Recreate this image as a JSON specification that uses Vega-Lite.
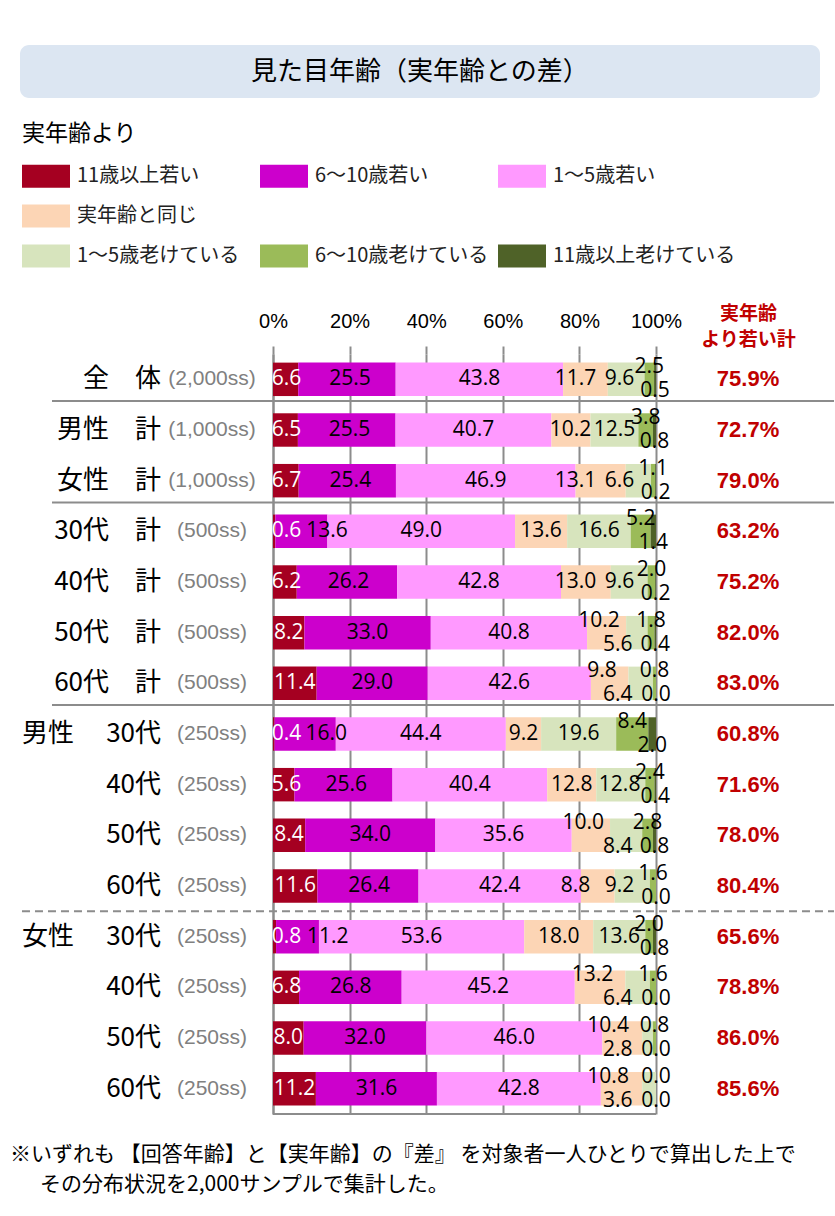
{
"$schema":"https://vega.github.io/schema/vega-lite/v6.json",
"padding":{"left":10,"top":45,"right":0,"bottom":5},
"background":"white",
"bounds":"flush",
"spacing":256,
"config":{"view":{"stroke":null}},
"datasets":{
"bars":[
{"row":"全体","cat":"11歳以上若い","v":6.6},{"row":"全体","cat":"6〜10歳若い","v":25.5},{"row":"全体","cat":"1〜5歳若い","v":43.8},{"row":"全体","cat":"実年齢と同じ","v":11.7},{"row":"全体","cat":"1〜5歳老けている","v":9.6},{"row":"全体","cat":"6〜10歳老けている","v":2.5},{"row":"全体","cat":"11歳以上老けている","v":0.5},
{"row":"男性計","cat":"11歳以上若い","v":6.5},{"row":"男性計","cat":"6〜10歳若い","v":25.5},{"row":"男性計","cat":"1〜5歳若い","v":40.7},{"row":"男性計","cat":"実年齢と同じ","v":10.2},{"row":"男性計","cat":"1〜5歳老けている","v":12.5},{"row":"男性計","cat":"6〜10歳老けている","v":3.8},{"row":"男性計","cat":"11歳以上老けている","v":0.8},
{"row":"女性計","cat":"11歳以上若い","v":6.7},{"row":"女性計","cat":"6〜10歳若い","v":25.4},{"row":"女性計","cat":"1〜5歳若い","v":46.9},{"row":"女性計","cat":"実年齢と同じ","v":13.1},{"row":"女性計","cat":"1〜5歳老けている","v":6.6},{"row":"女性計","cat":"6〜10歳老けている","v":1.1},{"row":"女性計","cat":"11歳以上老けている","v":0.2},
{"row":"30代計","cat":"11歳以上若い","v":0.6},{"row":"30代計","cat":"6〜10歳若い","v":13.6},{"row":"30代計","cat":"1〜5歳若い","v":49.0},{"row":"30代計","cat":"実年齢と同じ","v":13.6},{"row":"30代計","cat":"1〜5歳老けている","v":16.6},{"row":"30代計","cat":"6〜10歳老けている","v":5.2},{"row":"30代計","cat":"11歳以上老けている","v":1.4},
{"row":"40代計","cat":"11歳以上若い","v":6.2},{"row":"40代計","cat":"6〜10歳若い","v":26.2},{"row":"40代計","cat":"1〜5歳若い","v":42.8},{"row":"40代計","cat":"実年齢と同じ","v":13.0},{"row":"40代計","cat":"1〜5歳老けている","v":9.6},{"row":"40代計","cat":"6〜10歳老けている","v":2.0},{"row":"40代計","cat":"11歳以上老けている","v":0.2},
{"row":"50代計","cat":"11歳以上若い","v":8.2},{"row":"50代計","cat":"6〜10歳若い","v":33.0},{"row":"50代計","cat":"1〜5歳若い","v":40.8},{"row":"50代計","cat":"実年齢と同じ","v":10.2},{"row":"50代計","cat":"1〜5歳老けている","v":5.6},{"row":"50代計","cat":"6〜10歳老けている","v":1.8},{"row":"50代計","cat":"11歳以上老けている","v":0.4},
{"row":"60代計","cat":"11歳以上若い","v":11.4},{"row":"60代計","cat":"6〜10歳若い","v":29.0},{"row":"60代計","cat":"1〜5歳若い","v":42.6},{"row":"60代計","cat":"実年齢と同じ","v":9.8},{"row":"60代計","cat":"1〜5歳老けている","v":6.4},{"row":"60代計","cat":"6〜10歳老けている","v":0.8},{"row":"60代計","cat":"11歳以上老けている","v":0.0},
{"row":"男性30代","cat":"11歳以上若い","v":0.4},{"row":"男性30代","cat":"6〜10歳若い","v":16.0},{"row":"男性30代","cat":"1〜5歳若い","v":44.4},{"row":"男性30代","cat":"実年齢と同じ","v":9.2},{"row":"男性30代","cat":"1〜5歳老けている","v":19.6},{"row":"男性30代","cat":"6〜10歳老けている","v":8.4},{"row":"男性30代","cat":"11歳以上老けている","v":2.0},
{"row":"男性40代","cat":"11歳以上若い","v":5.6},{"row":"男性40代","cat":"6〜10歳若い","v":25.6},{"row":"男性40代","cat":"1〜5歳若い","v":40.4},{"row":"男性40代","cat":"実年齢と同じ","v":12.8},{"row":"男性40代","cat":"1〜5歳老けている","v":12.8},{"row":"男性40代","cat":"6〜10歳老けている","v":2.4},{"row":"男性40代","cat":"11歳以上老けている","v":0.4},
{"row":"男性50代","cat":"11歳以上若い","v":8.4},{"row":"男性50代","cat":"6〜10歳若い","v":34.0},{"row":"男性50代","cat":"1〜5歳若い","v":35.6},{"row":"男性50代","cat":"実年齢と同じ","v":10.0},{"row":"男性50代","cat":"1〜5歳老けている","v":8.4},{"row":"男性50代","cat":"6〜10歳老けている","v":2.8},{"row":"男性50代","cat":"11歳以上老けている","v":0.8},
{"row":"男性60代","cat":"11歳以上若い","v":11.6},{"row":"男性60代","cat":"6〜10歳若い","v":26.4},{"row":"男性60代","cat":"1〜5歳若い","v":42.4},{"row":"男性60代","cat":"実年齢と同じ","v":8.8},{"row":"男性60代","cat":"1〜5歳老けている","v":9.2},{"row":"男性60代","cat":"6〜10歳老けている","v":1.6},{"row":"男性60代","cat":"11歳以上老けている","v":0.0},
{"row":"女性30代","cat":"11歳以上若い","v":0.8},{"row":"女性30代","cat":"6〜10歳若い","v":11.2},{"row":"女性30代","cat":"1〜5歳若い","v":53.6},{"row":"女性30代","cat":"実年齢と同じ","v":18.0},{"row":"女性30代","cat":"1〜5歳老けている","v":13.6},{"row":"女性30代","cat":"6〜10歳老けている","v":2.0},{"row":"女性30代","cat":"11歳以上老けている","v":0.8},
{"row":"女性40代","cat":"11歳以上若い","v":6.8},{"row":"女性40代","cat":"6〜10歳若い","v":26.8},{"row":"女性40代","cat":"1〜5歳若い","v":45.2},{"row":"女性40代","cat":"実年齢と同じ","v":13.2},{"row":"女性40代","cat":"1〜5歳老けている","v":6.4},{"row":"女性40代","cat":"6〜10歳老けている","v":1.6},{"row":"女性40代","cat":"11歳以上老けている","v":0.0},
{"row":"女性50代","cat":"11歳以上若い","v":8.0},{"row":"女性50代","cat":"6〜10歳若い","v":32.0},{"row":"女性50代","cat":"1〜5歳若い","v":46.0},{"row":"女性50代","cat":"実年齢と同じ","v":10.4},{"row":"女性50代","cat":"1〜5歳老けている","v":2.8},{"row":"女性50代","cat":"6〜10歳老けている","v":0.8},{"row":"女性50代","cat":"11歳以上老けている","v":0.0},
{"row":"女性60代","cat":"11歳以上若い","v":11.2},{"row":"女性60代","cat":"6〜10歳若い","v":31.6},{"row":"女性60代","cat":"1〜5歳若い","v":42.8},{"row":"女性60代","cat":"実年齢と同じ","v":10.8},{"row":"女性60代","cat":"1〜5歳老けている","v":3.6},{"row":"女性60代","cat":"6〜10歳老けている","v":0.0},{"row":"女性60代","cat":"11歳以上老けている","v":0.0}
],
"rows":[
{"row":"全体","g":"","lab":"全　体","n":"(2,000ss)"},
{"row":"男性計","g":"","lab":"男性　計","n":"(1,000ss)"},
{"row":"女性計","g":"","lab":"女性　計","n":"(1,000ss)"},
{"row":"30代計","g":"","lab":"30代　計","n":"(500ss)"},
{"row":"40代計","g":"","lab":"40代　計","n":"(500ss)"},
{"row":"50代計","g":"","lab":"50代　計","n":"(500ss)"},
{"row":"60代計","g":"","lab":"60代　計","n":"(500ss)"},
{"row":"男性30代","g":"男性","lab":"30代","n":"(250ss)"},
{"row":"男性40代","g":"","lab":"40代","n":"(250ss)"},
{"row":"男性50代","g":"","lab":"50代","n":"(250ss)"},
{"row":"男性60代","g":"","lab":"60代","n":"(250ss)"},
{"row":"女性30代","g":"女性","lab":"30代","n":"(250ss)"},
{"row":"女性40代","g":"","lab":"40代","n":"(250ss)"},
{"row":"女性50代","g":"","lab":"50代","n":"(250ss)"},
{"row":"女性60代","g":"","lab":"60代","n":"(250ss)"}
],
"seps":[{"row":"全体"},{"row":"女性計"},{"row":"60代計"}],
"dash":[{"row":"男性60代"}],
"last":[{"row":"女性60代"}]
},
"vconcat":[
{
"width":383,"height":53,
"data":{"values":[{"t":"見た目年齢（実年齢との差）"}]},
"layer":[
{"mark":{"type":"rect","fill":"#dce6f2","cornerRadius":9},
"encoding":{
"x":{"datum":-0.6606,"type":"quantitative","scale":{"domain":[0,1],"nice":false,"zero":false},"axis":null},
"x2":{"datum":1.4282},
"y":{"datum":0,"type":"quantitative","scale":{"domain":[0,1],"nice":false,"zero":false},"axis":null},
"y2":{"datum":1}}},
{"mark":{"type":"text","font":"Noto Sans CJK JP","fontSize":26,"color":"#000000","align":"center","baseline":"middle"},
"encoding":{
"x":{"datum":0.3838,"type":"quantitative","scale":{"domain":[0,1],"nice":false,"zero":false},"axis":null},
"y":{"datum":0.5,"type":"quantitative","scale":{"domain":[0,1],"nice":false,"zero":false},"axis":null},
"text":{"field":"t"}}}
]
},
{
"width":383,"height":760,
"title":{"text":["※いずれも 【回答年齢】と【実年齢】の『差』 を対象者一人ひとりで算出した上で","\u2800\u2800その分布状況を2,000サンプルで集計した。"],"orient":"bottom","anchor":"start","frame":"group","dx":-263,"offset":29,"font":"Noto Sans CJK JP","fontSize":21,"fontWeight":"normal","color":"#000000","lineHeight":30,"baseline":"top"},
"layer":[
{"data":{"name":"seps"},
"mark":{"type":"rule","color":"#8c8c8c","strokeWidth":2},
"encoding":{
"y":{"field":"row","type":"nominal","bandPosition":0.93,"scale":{"domain":["全体","男性計","女性計","30代計","40代計","50代計","60代計","男性30代","男性40代","男性50代","男性60代","女性30代","女性40代","女性50代","女性60代"],"paddingInner":0,"paddingOuter":0}},
"x":{"datum":-0.577,"type":"quantitative","scale":{"domain":[0,1],"nice":false,"zero":false}},
"x2":{"datum":1.4648}}},
{"data":{"name":"dash"},
"mark":{"type":"rule","color":"#8c8c8c","strokeWidth":2,"strokeDash":[8,5]},
"encoding":{
"y":{"field":"row","type":"nominal","bandPosition":1,"scale":{"domain":["全体","男性計","女性計","30代計","40代計","50代計","60代計","男性30代","男性40代","男性50代","男性60代","女性30代","女性40代","女性50代","女性60代"],"paddingInner":0,"paddingOuter":0}},
"x":{"datum":-0.6554,"type":"quantitative","scale":{"domain":[0,1],"nice":false,"zero":false}},
"x2":{"datum":1.4648}}},
{"data":{"name":"last"},
"mark":{"type":"rule","color":"#8c8c8c","strokeWidth":2},
"encoding":{
"y":{"field":"row","type":"nominal","bandPosition":1,"scale":{"domain":["全体","男性計","女性計","30代計","40代計","50代計","60代計","男性30代","男性40代","男性50代","男性60代","女性30代","女性40代","女性50代","女性60代"],"paddingInner":0,"paddingOuter":0}},
"x":{"datum":0,"type":"quantitative","scale":{"domain":[0,1],"nice":false,"zero":false}},
"x2":{"datum":1}}},
{"data":{"name":"bars"},
"transform":[{"calculate":"indexof(['11歳以上若い','6〜10歳若い','1〜5歳若い','実年齢と同じ','1〜5歳老けている','6〜10歳老けている','11歳以上老けている'], datum.cat)","as":"k"}],
"mark":{"type":"bar","height":{"band":0.66}},
"encoding":{
"y":{"field":"row","type":"nominal","scale":{"domain":["全体","男性計","女性計","30代計","40代計","50代計","60代計","男性30代","男性40代","男性50代","男性60代","女性30代","女性40代","女性50代","女性60代"],"paddingInner":0,"paddingOuter":0},
"axis":{"title":null,"labels":false,"ticks":false,"domain":true,"domainColor":"#8c8c8c","domainWidth":2,"grid":false}},
"x":{"field":"v","type":"quantitative","stack":"normalize","scale":{"domain":[0,1],"nice":false,"zero":false},
"axis":{"orient":"top","values":[0,0.2,0.4,0.6,0.8,1],"format":".0%","labelFont":"Liberation Sans","labelFontSize":20,"labelColor":"#000000","labelPadding":15,"labelFlush":false,"labelOverlap":false,"domain":false,"ticks":true,"tickColor":"#8c8c8c","tickWidth":2,"tickSize":8,"grid":true,"gridColor":"#8c8c8c","gridWidth":2,
"title":["実年齢","より若い計"],"titleX":475,"titleY":-50,"titleBaseline":"top","titleAlign":"center","titleAngle":0,"titleFont":"Noto Sans CJK JP","titleFontSize":19,"titleFontWeight":"bold","titleColor":"#c00000","titleLineHeight":26}},
"order":{"field":"k","type":"quantitative"},
"color":{"field":"cat","type":"nominal",
"scale":{"domain":["11歳以上若い","6〜10歳若い","1〜5歳若い","実年齢と同じ"," ","  ","1〜5歳老けている","6〜10歳老けている","11歳以上老けている"],
"range":["#a50021","#cc00cc","#ff99ff","#fcd5b5","rgba(0,0,0,0)","rgba(0,0,0,0)","#d7e4bd","#9bbb59","#4f6228"]},
"legend":{"orient":"none","legendX":-251,"legendY":78,"direction":"horizontal","columns":3,"gridAlign":"all","title":"実年齢より","titleFont":"Noto Sans CJK JP","titleFontSize":23,"titleFontWeight":"normal","titleColor":"#000000","titlePadding":18,"labelFont":"Noto Sans CJK JP","labelFontSize":20,"labelColor":"#222222","labelLimit":400,"labelOffset":31,"symbolType":"M-1,-0.96H3V0.96H-1Z","symbolSize":576,"symbolStrokeWidth":0,"symbolOpacity":1,"columnPadding":0,"rowPadding":16,"padding":0}}
}},
{"data":{"name":"bars"},
"transform":[
{"calculate":"indexof(['11歳以上若い','6〜10歳若い','1〜5歳若い','実年齢と同じ','1〜5歳老けている','6〜10歳老けている','11歳以上老けている'], datum.cat)","as":"k"},
{"stack":"v","groupby":["row"],"sort":[{"field":"k","order":"ascending"}],"offset":"normalize","as":["s0","s1"]},
{"calculate":"(datum.s0+datum.s1)/2","as":"mid"},
{"calculate":"datum.k==4 ? datum.v : 0","as":"v5"},
{"calculate":"datum.k==3 ? datum.v : 0","as":"v4"},
{"calculate":"datum.k==4 ? min((datum.s0+datum.s1)/2, 0.905) : 0","as":"m5"},
{"joinaggregate":[{"op":"sum","field":"v5","as":"r5"},{"op":"sum","field":"v4","as":"r4"},{"op":"sum","field":"m5","as":"lx5"}],"groupby":["row"]},
{"calculate":"datum.r5 < 6.5 || (datum.r5 < 9 && datum.r4 <= 10.5)","as":"crowd"},
{"calculate":"datum.k==5 ? 'top' : datum.k==6 ? 'bot' : (datum.k==3 && datum.crowd) ? 'top' : (datum.k==4 && datum.crowd) ? 'bot' : 'mid'","as":"tier"},
{"calculate":"datum.k==0 ? max(datum.mid, 0.035) : datum.k==1 ? max(datum.mid, datum.s0+0.135) : datum.k==3 ? (datum.crowd ? min(datum.mid-0.02, 0.875) : min(datum.mid, datum.lx5-0.115)) : datum.k==4 ? (datum.crowd ? min(datum.mid, 0.9) : min(datum.mid, 0.905)) : datum.mid","as":"lx"}
],
"encoding":{
"y":{"field":"row","type":"nominal","scale":{"domain":["全体","男性計","女性計","30代計","40代計","50代計","60代計","男性30代","男性40代","男性50代","男性60代","女性30代","女性40代","女性50代","女性60代"],"paddingInner":0,"paddingOuter":0}},
"x":{"field":"lx","type":"quantitative","scale":{"domain":[0,1],"nice":false,"zero":false}},
"text":{"field":"v","type":"quantitative","format":".1f"},
"color":{"condition":{"test":"datum.k==0","value":"#ffffff"},"value":"#000000"}
},
"layer":[
{"transform":[{"filter":"datum.tier=='mid'"}],"mark":{"type":"text","font":"Open Sans","fontSize":21,"align":"center","baseline":"middle"}},
{"transform":[{"filter":"datum.tier=='top'"}],"mark":{"type":"text","font":"Open Sans","fontSize":21,"align":"center","baseline":"middle","dy":-12}},
{"transform":[{"filter":"datum.tier=='bot'"}],"mark":{"type":"text","font":"Open Sans","fontSize":21,"align":"center","baseline":"middle","dy":12}}
]},
{"data":{"name":"bars"},
"transform":[
{"calculate":"indexof(['11歳以上若い','6〜10歳若い','1〜5歳若い','実年齢と同じ','1〜5歳老けている','6〜10歳老けている','11歳以上老けている'], datum.cat)","as":"k"},
{"filter":"datum.k < 3"},
{"aggregate":[{"op":"sum","field":"v","as":"young"}],"groupby":["row"]},
{"calculate":"format(datum.young,'.1f')+'%'","as":"yl"}
],
"mark":{"type":"text","font":"Liberation Sans","fontSize":22,"fontWeight":"bold","color":"#c00000","align":"center","baseline":"middle"},
"encoding":{
"y":{"field":"row","type":"nominal","scale":{"domain":["全体","男性計","女性計","30代計","40代計","50代計","60代計","男性30代","男性40代","男性50代","男性60代","女性30代","女性40代","女性50代","女性60代"],"paddingInner":0,"paddingOuter":0}},
"x":{"datum":1.2402,"type":"quantitative","scale":{"domain":[0,1],"nice":false,"zero":false}},
"text":{"field":"yl"}}},
{"data":{"name":"rows"},
"encoding":{
"y":{"field":"row","type":"nominal","scale":{"domain":["全体","男性計","女性計","30代計","40代計","50代計","60代計","男性30代","男性40代","男性50代","男性60代","女性30代","女性40代","女性50代","女性60代"],"paddingInner":0,"paddingOuter":0}}},
"layer":[
{"mark":{"type":"text","font":"Noto Sans CJK JP","fontSize":26,"color":"#000000","align":"right","baseline":"middle"},
"encoding":{"x":{"datum":-0.2924,"type":"quantitative","scale":{"domain":[0,1],"nice":false,"zero":false}},"text":{"field":"lab"}}},
{"mark":{"type":"text","font":"Noto Sans CJK JP","fontSize":26,"color":"#000000","align":"left","baseline":"middle"},
"encoding":{"x":{"datum":-0.6554,"type":"quantitative","scale":{"domain":[0,1],"nice":false,"zero":false}},"text":{"field":"g"}}},
{"mark":{"type":"text","font":"Liberation Sans","fontSize":21,"color":"#808080","align":"center","baseline":"middle"},
"encoding":{"x":{"datum":-0.1593,"type":"quantitative","scale":{"domain":[0,1],"nice":false,"zero":false}},"text":{"field":"n"}}}
]}
]
}
]
}
